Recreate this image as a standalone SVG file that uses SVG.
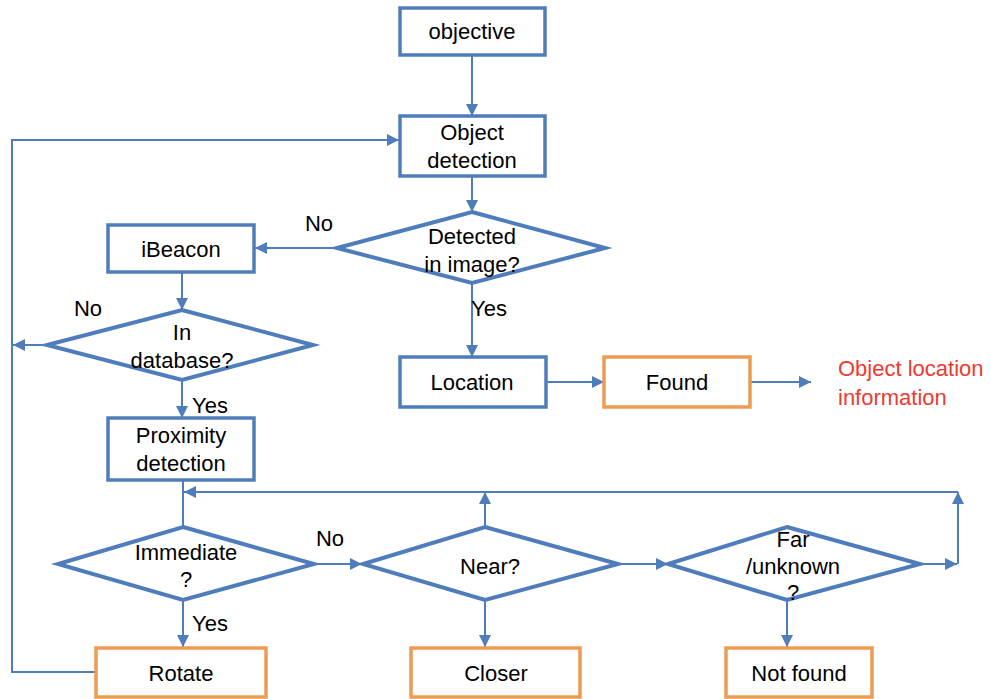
<svg xmlns="http://www.w3.org/2000/svg" width="991" height="699" viewBox="0 0 991 699">
<defs>
<marker id="ah" markerUnits="userSpaceOnUse" markerWidth="12" markerHeight="12" viewBox="0 0 12 12" refX="12" refY="6" orient="auto">
<path d="M0,0 L12,6 L0,12 Z" fill="#4F7DBC"/>
</marker>
<style>
.b{fill:#fff;stroke:#4F7DBC;stroke-width:3.5}
.o{fill:#fff;stroke:#EE9B52;stroke-width:3.5}
.d{fill:#fff;stroke:#4F7DBC;stroke-width:4}
.c{fill:none;stroke:#4F7DBC;stroke-width:2}
.ca{fill:none;stroke:#4F7DBC;stroke-width:2;marker-end:url(#ah)}
text{font-family:"Liberation Sans",Arial,sans-serif;font-size:22px;fill:#000;text-anchor:middle;dominant-baseline:central}
.r{fill:#EE3A30;text-anchor:start}
</style>
</defs>
<rect width="991" height="699" fill="#fff"/>
<g id="connectors">
<line class="ca" x1="472" y1="55" x2="472" y2="116"/>
<line class="ca" x1="472" y1="176" x2="472" y2="212"/>
<line class="ca" x1="337" y1="248" x2="255" y2="248"/>
<line class="ca" x1="472" y1="283" x2="472" y2="357"/>
<line class="ca" x1="546" y1="382" x2="604" y2="382"/>
<line class="ca" x1="750" y1="382" x2="811" y2="382"/>
<line class="ca" x1="182" y1="273" x2="182" y2="310"/>
<line class="ca" x1="47" y1="345" x2="13" y2="345"/>
<line class="ca" x1="182" y1="380" x2="182" y2="418"/>
<polyline class="ca" points="95,672 12,672 12,140 399,140"/>
<line class="c" x1="183" y1="480" x2="183" y2="527"/>
<line class="ca" x1="958" y1="492" x2="184" y2="492"/>
<line class="ca" x1="314" y1="564" x2="362" y2="564"/>
<line class="ca" x1="618" y1="564" x2="668" y2="564"/>
<line class="ca" x1="920" y1="564" x2="957" y2="564"/>
<line class="ca" x1="958" y1="564" x2="958" y2="492"/>
<line class="ca" x1="485" y1="527" x2="485" y2="492"/>
<line class="ca" x1="183" y1="600" x2="183" y2="647"/>
<line class="ca" x1="485" y1="600" x2="485" y2="647"/>
<line class="ca" x1="787" y1="600" x2="787" y2="647"/>
</g>
<g id="labels">
<text x="319" y="223">No</text>
<text x="489" y="308">Yes</text>
<text x="88" y="308">No</text>
<text x="210" y="405">Yes</text>
<text x="330" y="538">No</text>
<text x="210" y="623">Yes</text>
</g>
<g id="objective"><rect class="b" x="400" y="8" width="145" height="47"/><text x="472" y="31">objective</text></g>
<g id="object-detection"><rect class="b" x="400" y="116" width="145" height="60"/><text x="472" y="132">Object</text><text x="472" y="160">detection</text></g>
<g id="detected"><polygon class="d" points="472,212 605,248 472,283 337,248"/><text x="472" y="236">Detected</text><text x="472" y="264">in image?</text></g>
<g id="ibeacon"><rect class="b" x="108" y="225" width="146" height="47"/><text x="181" y="249">iBeacon</text></g>
<g id="in-database"><polygon class="d" points="182,310 313,345 182,380 47,345"/><text x="182" y="332">In</text><text x="182" y="360">database?</text></g>
<g id="location"><rect class="b" x="400" y="357" width="146" height="50"/><text x="472" y="382">Location</text></g>
<g id="found"><rect class="o" x="604" y="357" width="146" height="50"/><text x="677" y="382">Found</text></g>
<g id="object-location-info"><text class="r" x="838" y="368">Object location</text><text class="r" x="838" y="397">information</text></g>
<g id="proximity"><rect class="b" x="108" y="418" width="146" height="62"/><text x="181" y="435">Proximity</text><text x="181" y="463">detection</text></g>
<g id="immediate"><polygon class="d" points="183,527 314,564 183,600 58,564"/><text x="186" y="552">Immediate</text><text x="186" y="579">?</text></g>
<g id="near"><polygon class="d" points="485,527 618,564 485,600 363,564"/><text x="490" y="566">Near?</text></g>
<g id="far"><polygon class="d" points="787,527 920,564 787,600 668,564"/><text x="793" y="539">Far</text><text x="793" y="566">/unknown</text><text x="793" y="592">?</text></g>
<g id="rotate"><rect class="o" x="96" y="648" width="170" height="49"/><text x="181" y="673">Rotate</text></g>
<g id="closer"><rect class="o" x="411" y="648" width="169" height="49"/><text x="496" y="673">Closer</text></g>
<g id="not-found"><rect class="o" x="726" y="648" width="146" height="49"/><text x="799" y="673">Not found</text></g>
</svg>
